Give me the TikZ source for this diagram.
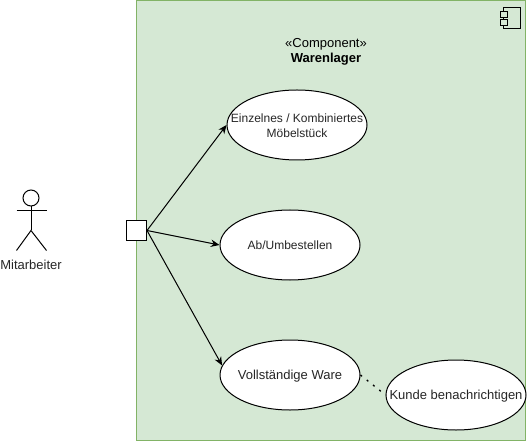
\documentclass[tikz,border=0pt]{standalone}
\usepackage{fontspec}
\setmainfont{Liberation Sans}
\usetikzlibrary{shapes,arrows.meta}
\definecolor{lagerfill}{HTML}{D5E8D4}
\definecolor{lagerline}{HTML}{82B366}

\begin{document}
\begin{tikzpicture}[x=0.75pt,y=-0.75pt,line width=0.75pt,font=\fontsize{9pt}{11.25pt}\selectfont]
	\tikzstyle{usecase}=[draw,ellipse,fill=white,inner sep=0pt,minimum width=105pt,minimum height=52.5pt]
	\tikzstyle{casetext}=[align=center,inner sep=0pt,text=black!85,yshift=-0.4pt]
	\tikzstyle{bigtext}=[casetext,font=\fontsize{9.75pt}{11.25pt}\selectfont,yshift=-0.6pt]
	\tikzstyle{part}=[draw,rectangle,inner sep=0pt,anchor=north west]
	\tikzstyle{usearrow}=[-{Stealth[length=6.5pt,width=5.5pt]}]

	\useasboundingbox (0,0) rectangle (527,441);

	% Komponente
	\node[draw=lagerline,fill=lagerfill,rectangle,inner sep=0pt,outer sep=0pt,minimum width=292pt,minimum height=330pt] (lager) at (331.25,220.5) {};
	\node[bigtext,text=black] (title) at (326,50.5) {«Component»\\\textbf{Warenlager}};

	\node[part,fill=lagerfill,minimum width=12.4pt,minimum height=15.5pt] (icon) at (503,7.5) {};
	\node[part,fill=lagerfill,minimum width=5.6pt,minimum height=4.2pt] (iconA) at (499.5,11.5) {};
	\node[part,fill=lagerfill,minimum width=5.6pt,minimum height=4.2pt] (iconB) at (499.5,19) {};

	% Anwendungsfaelle
	\node[usecase,label={[casetext]center:Einzelnes / Kombiniertes\\Möbelstück}] (einzeln) at (297,125) {};
	\node[usecase,label={[casetext,yshift=0.4pt]center:Ab/Umbestellen}] (bestellen) at (290,245) {};
	\node[usecase,label={[bigtext]center:Vollständige Ware}] (ware) at (290,375) {};
	\node[usecase,label={[bigtext]center:Kunde benachrichtigen}] (kunde) at (456,395) {};

	\node[draw,rectangle,fill=white,inner sep=0pt,minimum width=15pt,minimum height=15pt] (port) at (136.5,230.5) {};

	\draw[usearrow] (port.east) -- (einzeln.west);
	\draw[usearrow] (port.east) -- (bestellen.west);
	\draw[usearrow] (port.east) -- (ware.172);
	\draw[line width=1pt,dash pattern=on 1.5pt off 4.5pt] (ware.east) -- (kunde.west);

	% Akteur
	\node[draw,circle,inner sep=0pt,minimum size=12pt] (head) at (31,198) {};
	\coordinate (hip) at (31,230.5);
	\coordinate (armL) at (16.5,210.5);
	\coordinate (armR) at (46.5,210.5);
	\coordinate (footL) at (16.5,250.5);
	\coordinate (footR) at (46.5,250.5);
	\draw (head.south) -- (hip);
	\draw (armL) -- (armR);
	\draw (footL) -- (hip) -- (footR);
	\node[bigtext] (mitarbeiter) at (31,263.5) {Mitarbeiter};
\end{tikzpicture}
\end{document}
